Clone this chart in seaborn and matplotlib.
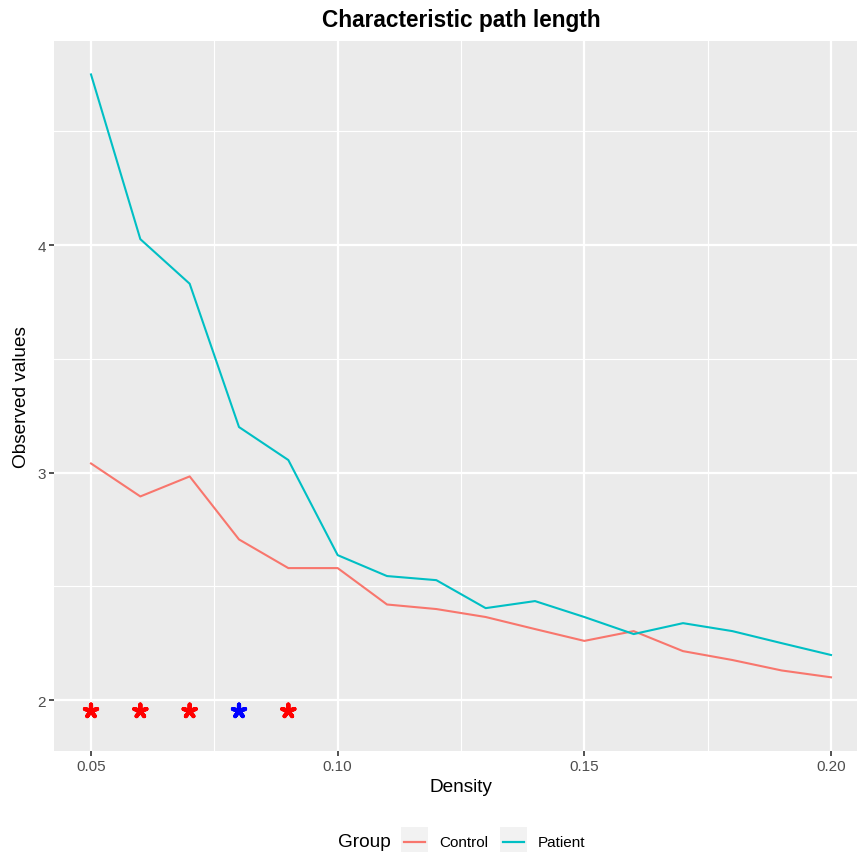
import numpy as np
import pandas as pd
import matplotlib
matplotlib.use("Agg")
import matplotlib.pyplot as plt
from matplotlib.patches import Rectangle
from matplotlib.lines import Line2D
import seaborn as sns

density = [0.05, 0.06, 0.07, 0.08, 0.09, 0.10, 0.11, 0.12, 0.13, 0.14, 0.15, 0.16, 0.17, 0.18, 0.19, 0.20]
control = [3.04, 2.895, 2.983, 2.706, 2.58, 2.58, 2.42, 2.40, 2.365, 2.312, 2.26, 2.303, 2.215, 2.176, 2.13, 2.10]
patient = [4.75, 4.026, 3.83, 3.20, 3.055, 2.637, 2.545, 2.527, 2.404, 2.435, 2.365, 2.29, 2.338, 2.303, 2.25, 2.198]
star_x = [0.05, 0.06, 0.07, 0.08, 0.09]
star_y = [1.952, 1.952, 1.952, 1.952, 1.952]
star_colors = ["#FF0000", "#FF0000", "#FF0000", "#0000FF", "#FF0000"]
groups = ["Control", "Patient"]
palette = {"Control": "#F8766D", "Patient": "#00BFC4"}

df = pd.DataFrame({
    "Density": density * 2,
    "Observed values": control + patient,
    "Group": ["Control"] * len(density) + ["Patient"] * len(density),
})

plt.rcParams["font.family"] = ["Liberation Sans", "DejaVu Sans"]

W, H = 857, 853
fig = plt.figure(figsize=(W / 100, H / 100), dpi=100)
left, right, top, bottom = 54, 868, 42, 752
ax = fig.add_axes([left / W, 1 - bottom / H, (right - left) / W, (bottom - top) / H])
ax.set_facecolor("#EBEBEB")
for s in ax.spines.values():
    s.set_visible(False)

sns.lineplot(data=df, x="Density", y="Observed values", hue="Group", palette=palette,
             ax=ax, linewidth=1.5, legend=False, zorder=3)
ax.scatter(star_x, star_y, marker=(5, 2, 0), s=85, c=star_colors, linewidths=3.0, zorder=4)

ax.set_xlim(0.0425, 0.2075)
ax.set_ylim(1.776, 4.897)
ax.set_xticks([0.05, 0.10, 0.15, 0.20])
ax.set_xticklabels(["0.05", "0.10", "0.15", "0.20"])
ax.set_yticks([2, 3, 4])
ax.set_yticklabels(["2", "3", "4"])
ax.set_xticks([0.075, 0.125, 0.175], minor=True)
ax.set_yticks([2.5, 3.5, 4.5], minor=True)
ax.grid(which="major", color="white", linewidth=1.6, zorder=0)
ax.grid(which="minor", color="white", linewidth=0.8, zorder=0)
ax.set_axisbelow(True)
ax.tick_params(which="major", length=3.4, width=1.2, color="#333333", labelcolor="#4D4D4D",
               labelsize=11, pad=2.5)
ax.tick_params(which="minor", length=0)
ax.set_xlabel("")
ax.set_ylabel("")

fig.text(0.5 * (left + right) / W, 1 - 20 / H, "Characteristic path length", ha="center", va="center",
         fontsize=16.3, fontweight="bold")
fig.text(0.5 * (left + right) / W, 1 - 788 / H, "Density", ha="center", va="center", fontsize=13.7)
fig.text(22 / W, 1 - 397 / H, "Observed values", ha="center", va="center", rotation=90, fontsize=13.7)

# legend
ly = 1 - 843 / H
fig.text(338 / W, ly, "Group", ha="left", va="center", fontsize=13.7)
for x0, g in [(401, "Control"), (500, "Patient")]:
    fig.patches.append(Rectangle((x0 / W, 1 - 857 / H), 27 / W, 29 / H, transform=fig.transFigure,
                                 facecolor="#F2F2F2", edgecolor="none"))
    fig.lines.append(Line2D([(x0 + 3) / W, (x0 + 24) / W], [ly, ly], transform=fig.transFigure,
                            color=palette[g], linewidth=1.6))
    fig.text((x0 + 38) / W, ly, g, ha="left", va="center", fontsize=11)

fig.savefig("out.png", dpi=100)
